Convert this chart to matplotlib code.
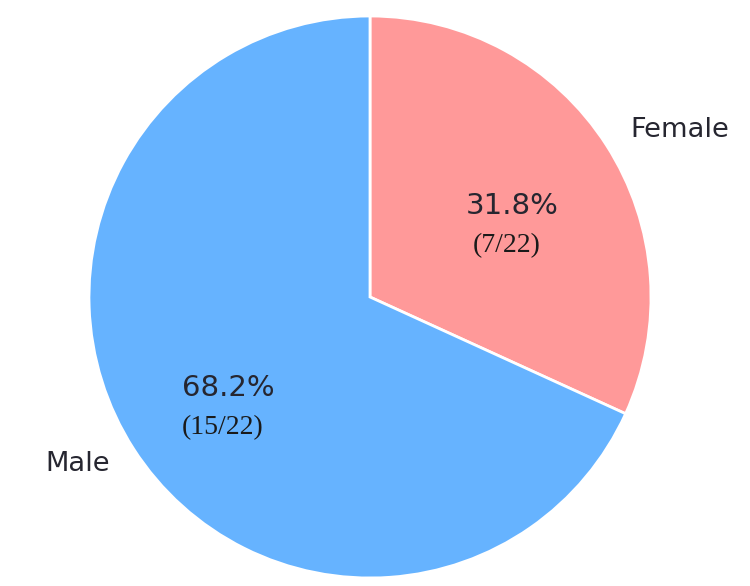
import matplotlib
matplotlib.use("Agg")
import matplotlib.pyplot as plt
import numpy as np

labels = ["Female", "Male"]
counts = [7, 15]
total = 22
colors = ["#ff9999", "#66b3ff"]

fig = plt.figure(figsize=(7.5, 5.86), dpi=100)
W, H = 750, 586
cx, cy, r = 370, 586 - 297, 281
lim = 1.2
size = 2 * lim * r
ax = fig.add_axes([(cx - size / 2) / W, (cy - size / 2) / H, size / W, size / H])

wedges, texts, autotexts = ax.pie(
    counts, labels=labels, colors=colors, startangle=90, counterclock=False,
    autopct="%1.1f%%", pctdistance=0.6, labeldistance=1.1,
    wedgeprops=dict(edgecolor="white", linewidth=2),
    textprops=dict(color="#262630", fontsize=19.6, family="DejaVu Sans"),
)
for t in autotexts:
    t.set_fontsize(21)

for t, c in zip(autotexts, counts):
    x, y = t.get_position()
    ax.text(x - 0.02, y - 0.14, f"({c}/{total})", ha="center", va="center",
            fontsize=20, family="Liberation Serif", color="#1a1a1a")

ax.set_xlim(-lim, lim)
ax.set_ylim(-lim, lim)
ax.set_aspect("equal")
ax.axis("off")

fig.savefig("out.png", dpi=100)
